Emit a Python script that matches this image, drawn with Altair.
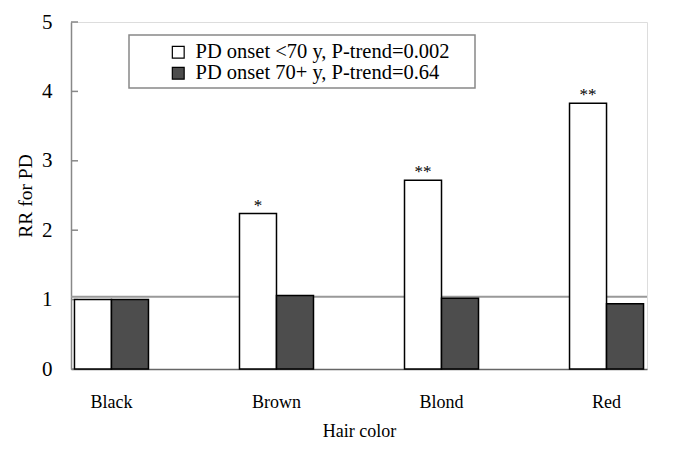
import altair as alt
import pandas as pd

categories = ["Black", "Brown", "Blond", "Red"]
series_names = ["PD onset <70 y, P-trend=0.002", "PD onset 70+ y, P-trend=0.64"]
early_rr = [1.0, 2.24, 2.72, 3.83]
late_rr = [1.0, 1.06, 1.02, 0.94]
early_marks = ["", "*", "**", "**"]
late_marks = ["", "", "", ""]
y_ticks = [0, 1, 2, 3, 4, 5]
ref_line = [1.04]

rows = []
for c, e, l, me, ml in zip(categories, early_rr, late_rr, early_marks, late_marks):
    rows.append({"hair": c, "group": series_names[0], "rr": e, "mark": me})
    rows.append({"hair": c, "group": series_names[1], "rr": l, "mark": ml})
df = pd.DataFrame(rows)

FONT = "Liberation Serif"

x_enc = alt.X("hair:N", sort=categories, title="Hair color",
              scale=alt.Scale(paddingInner=0.5515, paddingOuter=0.021),
              axis=alt.Axis(labelAngle=0, ticks=False, labelPadding=24,
                            labelFontSize=18, titleFontSize=18,
                            titleY=62, titleBaseline="middle",
                            domainColor="#666666", domainWidth=1.5))
xoff = alt.XOffset("group:N", scale=alt.Scale(domain=series_names, paddingInner=0, paddingOuter=0))
y_scale = alt.Scale(domain=[0, 5], nice=False)

bars = alt.Chart(df).mark_bar(stroke="black", strokeWidth=1.5).encode(
    x=x_enc,
    xOffset=xoff,
    y=alt.Y("rr:Q", scale=y_scale, title="RR for PD",
            axis=alt.Axis(values=y_ticks, format="d", ticks=False, grid=False, labelPadding=19,
                          labelFontSize=21, titleFontSize=19.5,
                          titleX=-46, titleY=173.5, titleAngle=-90,
                          titleAlign="center", titleBaseline="middle",
                          domainColor="#888888", domainWidth=1.5)),
    color=alt.Color("group:N", scale=alt.Scale(domain=series_names, range=["#ffffff", "#4d4d4d"]),
                    legend=alt.Legend(title=None, orient="none", legendX=97, legendY=20,
                                      padding=0, symbolType="square", symbolSize=140,
                                      symbolStrokeColor="black", symbolStrokeWidth=1.2,
                                      labelFontSize=20.5, labelFont=FONT, labelOffset=7,
                                      rowPadding=0, labelLimit=400)),
)

stars = alt.Chart(df).transform_filter(alt.datum.mark != "").mark_text(
    font=FONT, fontSize=17, baseline="alphabetic", dy=-3, color="black"
).encode(
    x=alt.X("hair:N", sort=categories),
    xOffset=xoff,
    y=alt.Y("rr:Q", scale=y_scale),
    text="mark:N",
)

ref = alt.Chart(pd.DataFrame({"v": ref_line})).mark_rule(color="#999999", strokeWidth=2).encode(
    y=alt.Y("v:Q", scale=y_scale)
)

ticks = alt.Chart(pd.DataFrame({"t": y_ticks})).mark_rule(color="#888888", strokeWidth=1.5).encode(
    y=alt.Y("t:Q", scale=y_scale), x=alt.value(0), x2=alt.value(7)
)

box = alt.Chart(pd.DataFrame({"b": [0]})).mark_rect(fill="white", stroke="#888888", strokeWidth=1.5).encode(
    x=alt.value(58), x2=alt.value(404), y=alt.value(13), y2=alt.value(66)
)

chart = alt.layer(ticks, ref, bars, stars, box).resolve_scale(x="shared").properties(
    width=576, height=347,
    autosize=alt.AutoSizeParams(type="none"),
    padding={"left": 63, "top": 14, "right": 22, "bottom": 72},
).configure_view(stroke=None).configure(font=FONT).configure_axis(
    labelFont=FONT, titleFont=FONT, labelColor="black", titleColor="black", titleFontWeight="normal"
)

chart.save("out.html", embed_options={"renderer": "svg", "actions": False})
